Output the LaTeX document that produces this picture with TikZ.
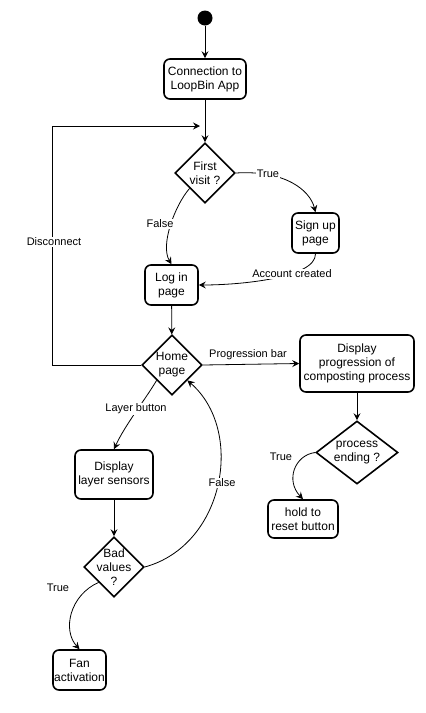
\documentclass[tikz,border=0pt]{standalone}
\usepackage{fontspec}
\setmainfont{Liberation Sans}
\usetikzlibrary{shapes.geometric,arrows.meta}
\begin{document}
\begin{tikzpicture}[x=1pt,y=-1pt,
  box/.style={draw,line width=1.6pt,rounded corners=6pt,align=center,inner sep=0pt,font=\fontsize{12}{14}\selectfont},
  dia/.style={draw,line width=1.6pt,shape=diamond,inner sep=0pt},
  dtext/.style={align=center,inner sep=0pt,font=\fontsize{12}{14}\selectfont},
  arr/.style={line width=0.8pt,-{Stealth[length=7pt,width=7pt,inset=2.5pt]}},
  lab/.style={fill=white,inner sep=1pt,font=\fontsize{11}{12}\selectfont}]
\useasboundingbox (0,0) rectangle (426,713);
\fill[white] (0,0) rectangle (426,713);
% nodes
\node[circle,fill=black,minimum size=15pt,inner sep=0pt] (start) at (205,18) {};
\node[box,minimum width=82pt,minimum height=40pt] (conn) at (205,79) {Connection to\\LoopBin App};
\node[dia,minimum width=60pt,minimum height=60pt] (fv) at (205,173) {};
\node[dtext] (fvt) at (205,173) {First\\visit ?};
\node[box,minimum width=47pt,minimum height=40pt] (signup) at (315.5,233) {Sign up\\page};
\node[box,minimum width=53pt,minimum height=40pt] (login) at (171.5,285) {Log in\\page};
\node[dia,minimum width=60pt,minimum height=60pt] (home) at (172,365) {};
\node[dtext] (homet) at (172,365) {Home\\page};
\node[box,minimum width=114pt,minimum height=57pt] (prog) at (357,363.5) {Display\\progression of\\composting process};
\node[dia,minimum width=82pt,minimum height=63pt] (pe) at (357,452.5) {};
\node[dtext] (pet) at (357,452.5) {process\\ending ?};
\node[box,minimum width=70pt,minimum height=38pt] (hold) at (303,519) {hold to\\reset button};
\node[box,minimum width=78pt,minimum height=49pt] (layer) at (114,474.5) {Display\\layer sensors};
\node[dia,minimum width=60pt,minimum height=60pt] (bv) at (114,567) {};
\node[dtext] (bvt) at (114,567) {Bad\\values\\?};
\node[box,minimum width=53pt,minimum height=40pt] (fan) at (79.5,670) {Fan\\activation};
\coordinate (dc) at (200,126);
% connectors
\draw[arr] (start) -- (conn);
\draw[arr] (conn) -- (fv);
\draw[arr] (home.west) -- (52,365) -- (52,126) -- (dc);
\node[lab] (l1) at (54,242) {Disconnect};
\draw[arr] (fv.east) .. controls (285,170) and (310,190) .. (signup.north);
\node[lab] (l2) at (268,174) {True};
\draw[arr] (fv.south west) .. controls (175,205) and (160,245) .. (login.north);
\node[lab] (l3) at (160,224) {False};
\draw[arr] (signup.south) .. controls (316,278) and (240,285) .. (login.east);
\node[lab] (l4) at (292,274) {Account created};
\draw[arr] (login) -- (home);
\draw[arr] (home.east) -- (prog.west);
\node[lab] (l5) at (248,355) {Progression bar};
\draw[arr] (prog) -- (pe);
\draw[arr] (pe.west) .. controls (295,455) and (285,480) .. (hold.north);
\node[lab] (l6) at (281,457) {True};
\draw[arr] (home.south west) .. controls (145,400) and (125,425) .. (layer.north);
\node[lab] (l7) at (136,409) {Layer button};
\draw[arr] (layer) -- (bv);
\draw[arr] (bv.east) .. controls (225,545) and (245,430) .. (home.south east);
\node[lab] (l8) at (222,483) {False};
\draw[arr] (bv.south west) .. controls (70,595) and (62,630) .. (fan.north);
\node[lab] (l9) at (58,588) {True};
\end{tikzpicture}
\end{document}
